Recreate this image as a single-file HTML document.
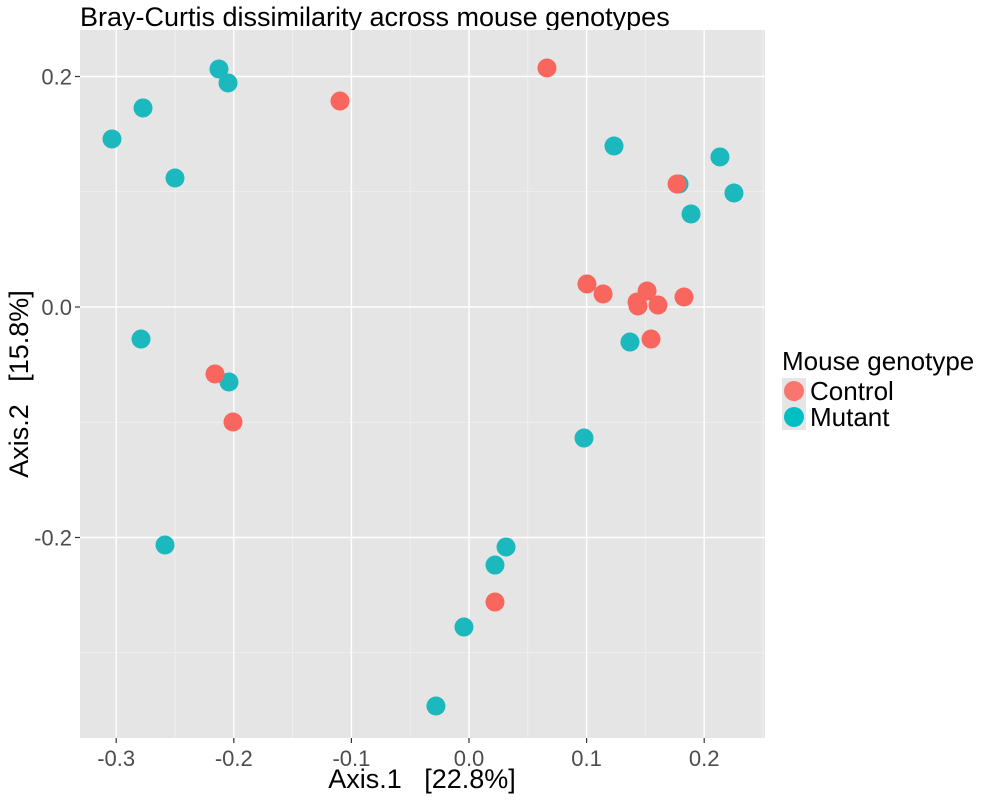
<!DOCTYPE html>
<html><head><meta charset="utf-8"><style>
body{margin:0;background:#fff;font-family:"Liberation Sans",sans-serif}
</style></head><body>
<svg id="chart" width="1000" height="800" xmlns="http://www.w3.org/2000/svg" font-family="Liberation Sans, sans-serif">
<text x="80" y="26" font-size="27" fill="#000">Bray-Curtis dissimilarity across mouse genotypes</text>
<rect x="80" y="30" width="685" height="708" fill="#e5e5e5"/>
<g id="grid"></g>
<g id="points"></g>
<g id="axes"></g>
<text x="422" y="788" font-size="27" text-anchor="middle">Axis.1&#160;&#160;&#160;[22.8%]</text>
<text transform="translate(28,384) rotate(-90)" font-size="27" text-anchor="middle">Axis.2&#160;&#160;&#160;[15.8%]</text>
<g>
<text x="782" y="370" font-size="26">Mouse genotype</text>
<rect x="782" y="378" width="24" height="52" fill="#e5e5e5"/>
<circle cx="794" cy="391" r="10" fill="#F8766D"/>
<text x="810" y="400" font-size="26">Control</text>
<circle cx="794" cy="417" r="10" fill="#00BFC4"/>
<text x="810" y="426" font-size="26">Mutant</text>
</g>
</svg>
<script>
const mutantX=[-0.3036,-0.2772,-0.2126,-0.2049,-0.25,-0.2789,-0.2041,-0.2585,0.1233,0.2134,0.2253,0.1786,0.1888,0.1369,0.0978,0.0315,0.0221,-0.0043,-0.0281];
const mutantY=[0.1458,0.1727,0.2065,0.1944,0.1119,-0.0278,-0.0651,-0.2065,0.1397,0.1302,0.0989,0.1067,0.0807,-0.0304,-0.1137,-0.2082,-0.2239,-0.2777,-0.3462];
const controlX=[0.0663,-0.1097,0.1769,0.1003,0.114,0.1514,0.1429,0.1437,0.1607,0.1828,0.1548,-0.216,-0.2007,0.0221];
const controlY=[0.2074,0.1787,0.1067,0.02,0.0113,0.0139,0.0043,0.0009,0.0017,0.0087,-0.0278,-0.0581,-0.0998,-0.256];
const xTicks=[-0.3,-0.2,-0.1,0.0,0.1,0.2];
const xTickLabels=["-0.3","-0.2","-0.1","0.0","0.1","0.2"];
const yTicks=[0.2,0.0,-0.2];
const yTickLabels=["0.2","0.0","-0.2"];
const xMinor=[-0.35,-0.25,-0.15,-0.05,0.05,0.15,0.25];
const yMinor=[0.1,-0.1,-0.3];
const sx=v=>469+v*1176, sy=v=>307-v*1152.5;
const NS="http://www.w3.org/2000/svg";
function mk(tag,attrs,parent){const e=document.createElementNS(NS,tag);for(const k in attrs)e.setAttribute(k,attrs[k]);parent.appendChild(e);return e;}
const grid=document.getElementById('grid'),pts=document.getElementById('points'),axes=document.getElementById('axes');
xMinor.forEach(v=>{const x=sx(v);if(x<80||x>765)return;const l=mk('line',{x1:x,x2:x,y1:30,y2:738,stroke:'#f2f2f2','stroke-width':0.7},grid);

});
yMinor.forEach(v=>{const y=sy(v);const l=mk('line',{x1:80,x2:765,y1:y,y2:y,stroke:'#f2f2f2','stroke-width':0.7},grid);

});
xTicks.forEach((v,i)=>{const x=sx(v);const l=mk('line',{x1:x,x2:x,y1:30,y2:738,stroke:'#fff','stroke-width':1.4},grid);


const t=mk('line',{x1:x,x2:x,y1:738,y2:743,stroke:'#333','stroke-width':1.2},axes);


const tx=mk('text',{x:x,y:766,'font-size':22,fill:'#4d4d4d','text-anchor':'middle'},axes);tx.textContent=xTickLabels[i];

});
yTicks.forEach((v,i)=>{const y=sy(v);const l=mk('line',{x1:80,x2:765,y1:y,y2:y,stroke:'#fff','stroke-width':1.4},grid);


const t=mk('line',{x1:75,x2:80,y1:y,y2:y,stroke:'#333','stroke-width':1.2},axes);


const tx=mk('text',{x:72,y:y+8,'font-size':22,fill:'#4d4d4d','text-anchor':'end'},axes);tx.textContent=yTickLabels[i];

});
mutantX.forEach((v,i)=>{const c=mk('circle',{cx:sx(v),cy:sy(mutantY[i]),r:9.5,fill:'#1BB9BD'},pts);

});
controlX.forEach((v,i)=>{const c=mk('circle',{cx:sx(v),cy:sy(controlY[i]),r:9.5,fill:'#F8665E'},pts);

});
</script>
</body></html>
